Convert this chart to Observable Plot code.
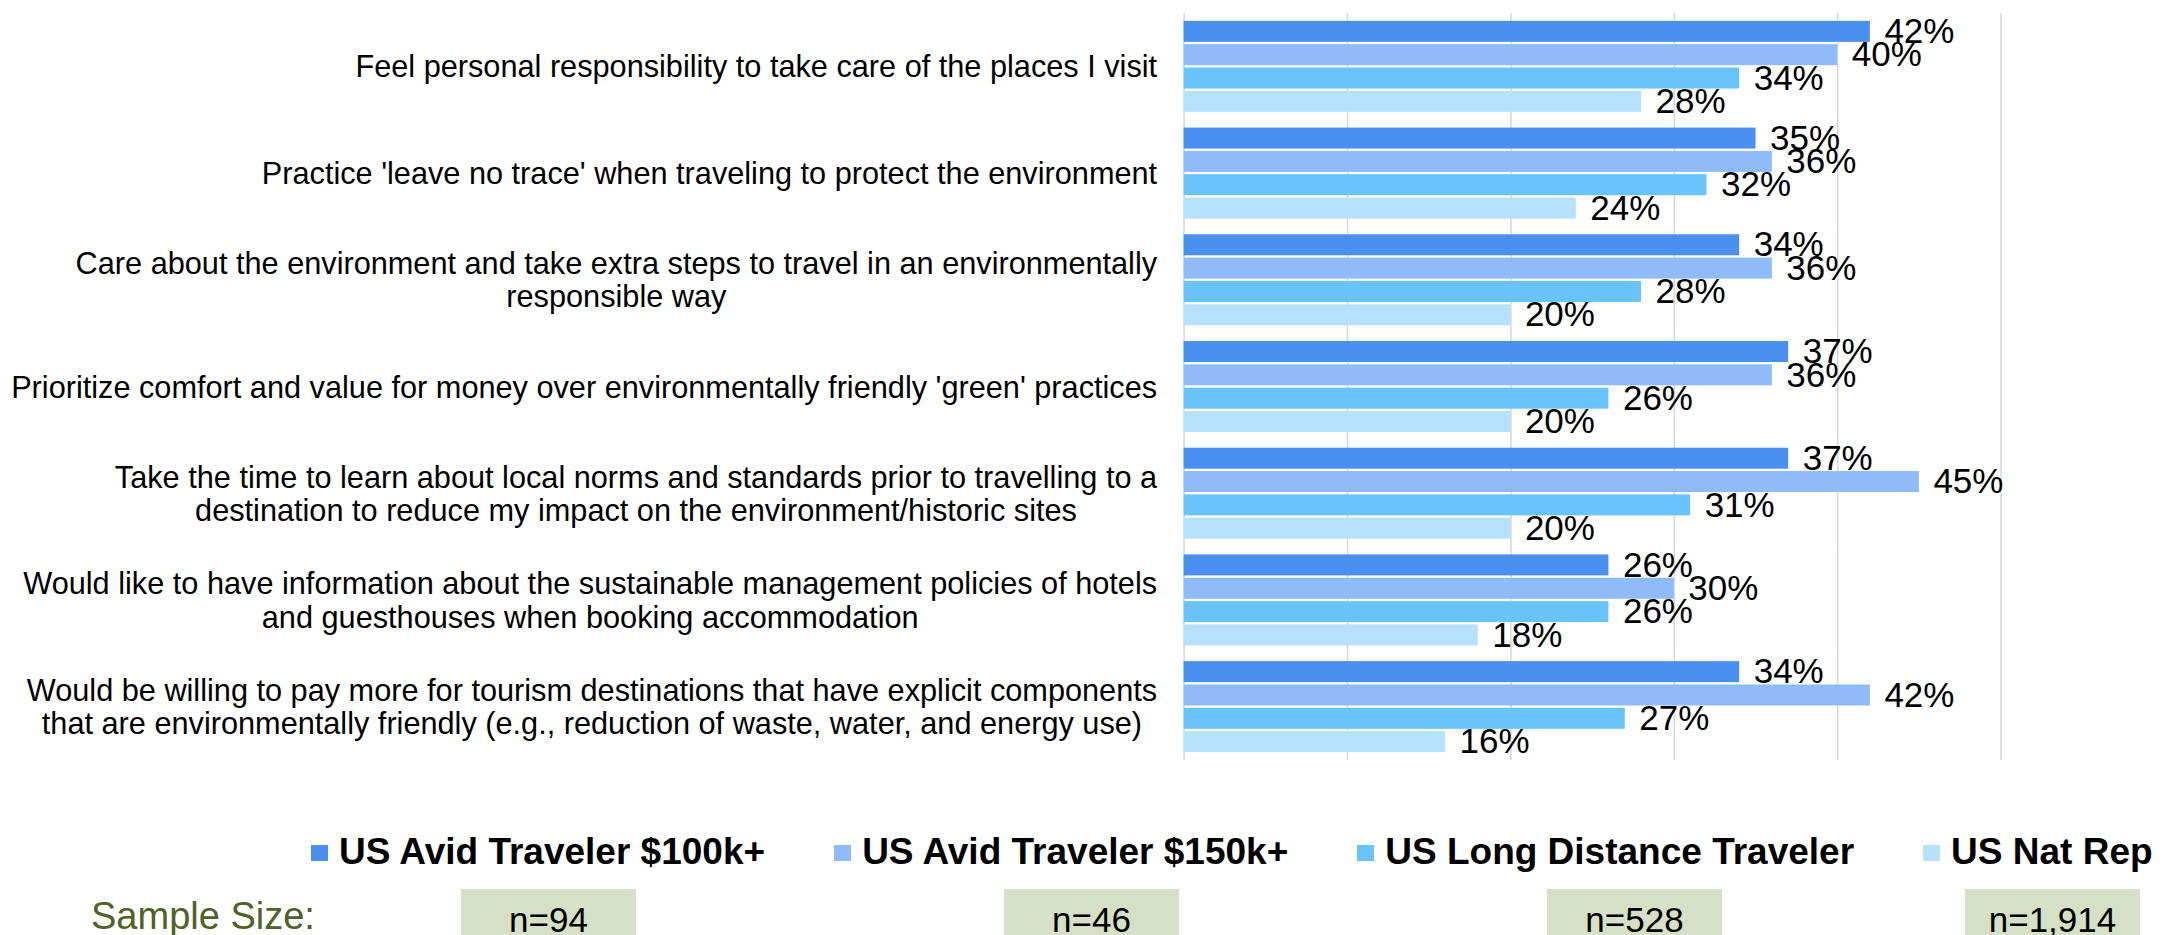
<!DOCTYPE html>
<html>
<head>
<meta charset="utf-8">
<script src="https://cdn.jsdelivr.net/npm/d3@7"></script>
<script src="https://cdn.jsdelivr.net/npm/@observablehq/plot@0.6"></script>
<style>
  html, body { margin: 0; padding: 0; background: #fff; }
  body { width: 2164px; height: 935px; overflow: hidden; position: relative; font-family: "Liberation Sans", Arial, sans-serif; }
  #chart { position: absolute; left: 0; top: 0; }
  #legend { position: absolute; left: 311px; top: 833px; display: flex; align-items: center; gap: 69px; white-space: nowrap; font-weight: bold; font-size: 37px; line-height: 37px; color: #000; }
  .item { display: flex; align-items: center; gap: 11px; }
  .sw { width: 17px; height: 16px; display: inline-block; margin-top: 3px; }
  #sampleLabel { position: absolute; left: 91px; top: 896px; font-size: 38px; line-height: 40px; color: #4F6228; border-bottom: 2px solid #D6D6CF; }
  .box { position: absolute; top: 889px; height: 60px; background: #D5E0C6; text-align: center; font-size: 35px; line-height: 35px; padding-top: 13px; box-sizing: border-box; color: #000; }
</style>
</head>
<body>
<div id="chart"></div>
<div id="legend"></div>
<div id="sampleLabel">Sample Size:</div>
<div id="boxes"></div>
<script>
const categories = [
  "Feel personal responsibility to take care of the places I visit",
  "Practice 'leave no trace' when traveling to protect the environment",
  "Care about the environment and take extra steps to travel in an environmentally\nresponsible way",
  "Prioritize comfort and value for money over environmentally friendly 'green' practices",
  "Take the time to learn about local norms and standards prior to travelling to a\ndestination to reduce my impact on the environment/historic sites",
  "Would like to have information about the sustainable management policies of hotels\nand guesthouses when booking accommodation",
  "Would be willing to pay more for tourism destinations that have explicit components\nthat are environmentally friendly (e.g., reduction of waste, water, and energy use)"
];
const series = ["US Avid Traveler $100k+", "US Avid Traveler $150k+", "US Long Distance Traveler", "US Nat Rep"];
const avid100 = [42, 35, 34, 37, 37, 26, 34];
const avid150 = [40, 36, 36, 36, 45, 30, 42];
const longDistance = [34, 32, 28, 26, 31, 26, 27];
const natRep = [28, 24, 20, 20, 20, 18, 16];
const sampleSizes = ["n=94", "n=46", "n=528", "n=1,914"];
const colors = ["#4A90F1", "#8FBBF8", "#69C3FD", "#B6E2FD"];
const gridTicks = [0, 10, 20, 30, 40, 50];

const seriesValues = [avid100, avid150, longDistance, natRep];
const rows = [];
categories.forEach((c, i) => {
  series.forEach((s, j) => rows.push({category: c, series: s, value: seriesValues[j][i]}));
});

const labelFont = 30.7;
const ctx = document.createElement("canvas").getContext("2d");
ctx.font = `${labelFont}px "Liberation Sans"`;
const labelGap = 27;
const labelMarks = categories.map(c => {
  const w = Math.max(...c.split("\n").map(l => ctx.measureText(l).width));
  return Plot.text([c], {
    fy: d => d, text: d => d, frameAnchor: "left", textAnchor: "middle",
    dx: -(labelGap + w / 2), fontSize: labelFont, lineHeight: 1.08, fill: "#000"
  });
});

const chart = Plot.plot({
  width: 2164,
  height: 790,
  marginTop: 13,
  marginBottom: 30,
  marginLeft: 1183.6,
  marginRight: 163.4,
  style: {fontFamily: "Liberation Sans", background: "white", overflow: "visible"},
  x: {domain: [0, 50], axis: null},
  y: {domain: series, axis: null, paddingInner: 0.1, paddingOuter: 0.3365, round: false},
  fy: {domain: categories, axis: null, padding: 0, round: false},
  color: {domain: series, range: colors},
  marks: [
    Plot.ruleX(gridTicks, {stroke: "#D9D9D9", strokeWidth: 1.6}),
    Plot.barX(rows, {fy: "category", y: "series", x: "value", fill: "series"}),
    Plot.text(rows, {fy: "category", y: "series", x: "value", text: d => d.value + "%", dx: 14, textAnchor: "start", fontSize: 35, fill: "#000"}),
    ...labelMarks
  ]
});
document.getElementById("chart").appendChild(chart);

const legend = document.getElementById("legend");
series.forEach((s, i) => {
  const it = document.createElement("div");
  it.className = "item";
  const sw = document.createElement("span");
  sw.className = "sw";
  sw.style.background = colors[i];
  const t = document.createElement("span");
  t.textContent = s;
  it.appendChild(sw); it.appendChild(t);
  legend.appendChild(it);
});

const boxLefts = [461, 1004, 1547, 1965];
const boxes = document.getElementById("boxes");
sampleSizes.forEach((n, i) => {
  const b = document.createElement("div");
  b.className = "box";
  b.style.left = boxLefts[i] + "px";
  b.style.width = "175px";
  b.textContent = n;
  boxes.appendChild(b);
});
</script>
</body>
</html>
